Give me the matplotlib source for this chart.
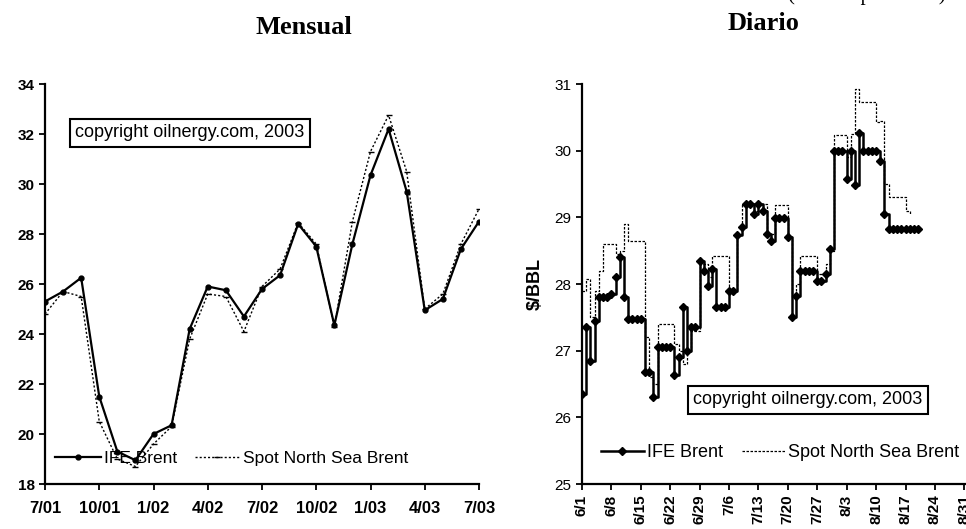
import matplotlib
matplotlib.use("Agg")
import matplotlib.pyplot as plt

# ---------------- Monthly data (7/01 .. 7/03) ----------------
month_labels = ['7/01', '10/01', '1/02', '4/02', '7/02', '10/02', '1/03', '4/03', '7/03']
ife_monthly = [25.3, 25.7, 26.25, 21.5, 19.3, 18.95, 20.0, 20.35, 24.2, 25.9, 25.75, 24.7,
               25.8, 26.35, 28.4, 27.5, 24.35, 27.6, 30.35, 32.2, 29.7, 24.95, 25.4, 27.4, 28.5]
spot_monthly = [24.8, 25.7, 25.5, 20.5, 19.0, 18.7, 19.6, 20.3, 23.8, 25.6, 25.5, 24.1,
                25.9, 26.6, 28.45, 27.6, 24.3, 28.5, 31.3, 32.75, 30.5, 25.0, 25.6, 27.6, 29.0]

# ---------------- Daily data (from 6/1, one value per day) ----------------
day_labels = ['6/1', '6/8', '6/15', '6/22', '6/29', '7/6', '7/13', '7/20', '7/27',
              '8/3', '8/10', '8/17', '8/24', '8/31']
ife_daily = [26.35, 27.35, 26.85, 27.45, 27.8, 27.8, 27.8, 27.85, 28.1, 28.4,
             27.8, 27.48, 27.48, 27.48, 27.48, 26.68, 26.68, 26.3, 27.05, 27.05,
             27.05, 27.05, 26.63, 26.9, 27.65, 27.0, 27.35, 27.35, 28.35, 28.2,
             27.97, 28.22, 27.65, 27.65, 27.65, 27.9, 27.9, 28.74, 28.85, 29.2,
             29.2, 29.05, 29.2, 29.1, 28.75, 28.64, 28.99, 28.99, 28.99, 28.7,
             27.5, 27.82, 28.19, 28.19, 28.19, 28.19, 28.04, 28.04, 28.15, 28.52,
             30.0, 30.0, 30.0, 29.57, 30.0, 29.48, 30.26, 30.0, 30.0, 30.0,
             30.0, 29.85, 29.05, 28.82, 28.82, 28.82, 28.82, 28.82, 28.82, 28.82, 28.82]
spot_daily = [27.9, 28.07, 27.5, 27.9, 28.2, 28.6, 28.6, 28.6, 28.45, 28.5,
              28.9, 28.64, 28.64, 28.64, 28.64, 27.2, 26.6, 26.5, 27.4, 27.4,
              27.4, 27.4, 27.1, 27.0, 26.8, 27.0, 27.3, 27.3, 28.3, 28.3,
              28.1, 28.42, 28.42, 28.42, 28.42, 27.9, 27.9, 28.75, 29.2, 29.2,
              29.2, 29.1, 29.2, 29.2, 28.75, 28.75, 29.19, 29.19, 29.19, 28.7,
              27.8, 28.0, 28.42, 28.42, 28.42, 28.42, 28.15, 28.15, 28.3, 28.5,
              30.24, 30.24, 30.24, 29.9, 30.25, 30.93, 30.73, 30.73, 30.73, 30.73,
              30.43, 30.45, 29.5, 29.31, 29.31, 29.31, 29.31, 29.1, 29.05]

plt.rcParams['font.family'] = ['Liberation Sans', 'DejaVu Sans']

W, H = 966, 529
fig = plt.figure(figsize=(W / 100, H / 100), dpi=100)

def ax_rect(x0, x1, ytop, ybot):
    return [x0 / W, 1 - ybot / H, (x1 - x0) / W, (ybot - ytop) / H]

def style_axes(ax):
    for s in ['top', 'right']:
        ax.spines[s].set_visible(False)
    for s in ['left', 'bottom']:
        ax.spines[s].set_linewidth(1.6)
        ax.spines[s].set_color('black')
    ax.tick_params(direction='out', length=4, width=1.3, colors='black', labelsize=11)

# ---------------- Left: Mensual ----------------
axL = fig.add_axes(ax_rect(45, 479, 84, 484))
style_axes(axL)
xm = list(range(len(ife_monthly)))
axL.plot(xm, ife_monthly, color='black', lw=1.6, marker='o', ms=3.5, label='IFE Brent')
axL.plot(xm, spot_monthly, color='black', lw=1.0, ls=(0, (1.5, 1.5)), marker='_', ms=4,
         label='Spot North Sea Brent')
axL.set_xlim(0, 24)
axL.set_ylim(18, 34)
axL.set_yticks(range(18, 35, 2))
axL.set_xticks(range(0, 25, 3))
axL.set_xticklabels(month_labels, fontsize=12, fontweight='bold')
axL.tick_params(axis='x', pad=8)
for t in axL.get_yticklabels():
    t.set_fontweight('bold')
axL.text(0.07, 0.878, 'copyright oilnergy.com, 2003', transform=axL.transAxes,
         fontsize=13, va='center', ha='left',
         bbox=dict(boxstyle='square,pad=0.3', fc='white', ec='black', lw=1.5))
axL.legend(loc='lower left', bbox_to_anchor=(0.0, 0.02), ncol=2, frameon=False,
           fontsize=12.5, handlelength=2.6, handletextpad=0.2, columnspacing=1.0,
           borderaxespad=0.2)

# ---------------- Right: Diario ----------------
axR = fig.add_axes(ax_rect(582, 966, 84, 484))
style_axes(axR)
xd_i = list(range(len(ife_daily)))
xd_s = list(range(len(spot_daily)))
axR.plot(xd_s, spot_daily, color='black', lw=0.9, ls=(0, (2, 1.2)), drawstyle='steps-post',
         label='Spot North Sea Brent')
axR.plot(xd_i, ife_daily, color='black', lw=1.8, drawstyle='steps-post',
         marker='D', ms=4.5, label='IFE Brent')
axR.set_xlim(0, 91.4)
axR.set_ylim(25, 31)
axR.set_yticks(range(25, 32))
axR.set_xticks(range(0, 92, 7))
axR.set_xticklabels(day_labels, rotation=90, fontsize=11, fontweight='bold')
for t in axR.get_yticklabels():
    t.set_fontsize(11)
axR.set_ylabel('$/BBL', fontsize=13, fontweight='bold', labelpad=8)
axR.text(0.29, 0.21, 'copyright oilnergy.com, 2003', transform=axR.transAxes,
         fontsize=13, va='center', ha='left',
         bbox=dict(boxstyle='square,pad=0.3', fc='white', ec='black', lw=1.5))
h, l = axR.get_legend_handles_labels()
axR.legend(h[::-1], l[::-1], loc='lower left', bbox_to_anchor=(0.02, 0.03), ncol=2,
           frameon=False, fontsize=13, handlelength=2.4, handletextpad=0.2,
           columnspacing=1.0, borderaxespad=0.2)

# ---------------- Titles ----------------
fig.text(304 / W, 1 - 27 / H, 'Mensual', fontsize=19, fontweight='bold',
         family='Liberation Serif', ha='center', va='center')
fig.text(763 / W, 1 - 23 / H, 'Diario', fontsize=19, fontweight='bold',
         family='Liberation Serif', ha='center', va='center')
fig.text(788 / W, 1 + 5 / H, '(dólares por barril)', fontsize=15, family='Liberation Serif',
         ha='left', va='center')

fig.savefig('out.png', dpi=100)
